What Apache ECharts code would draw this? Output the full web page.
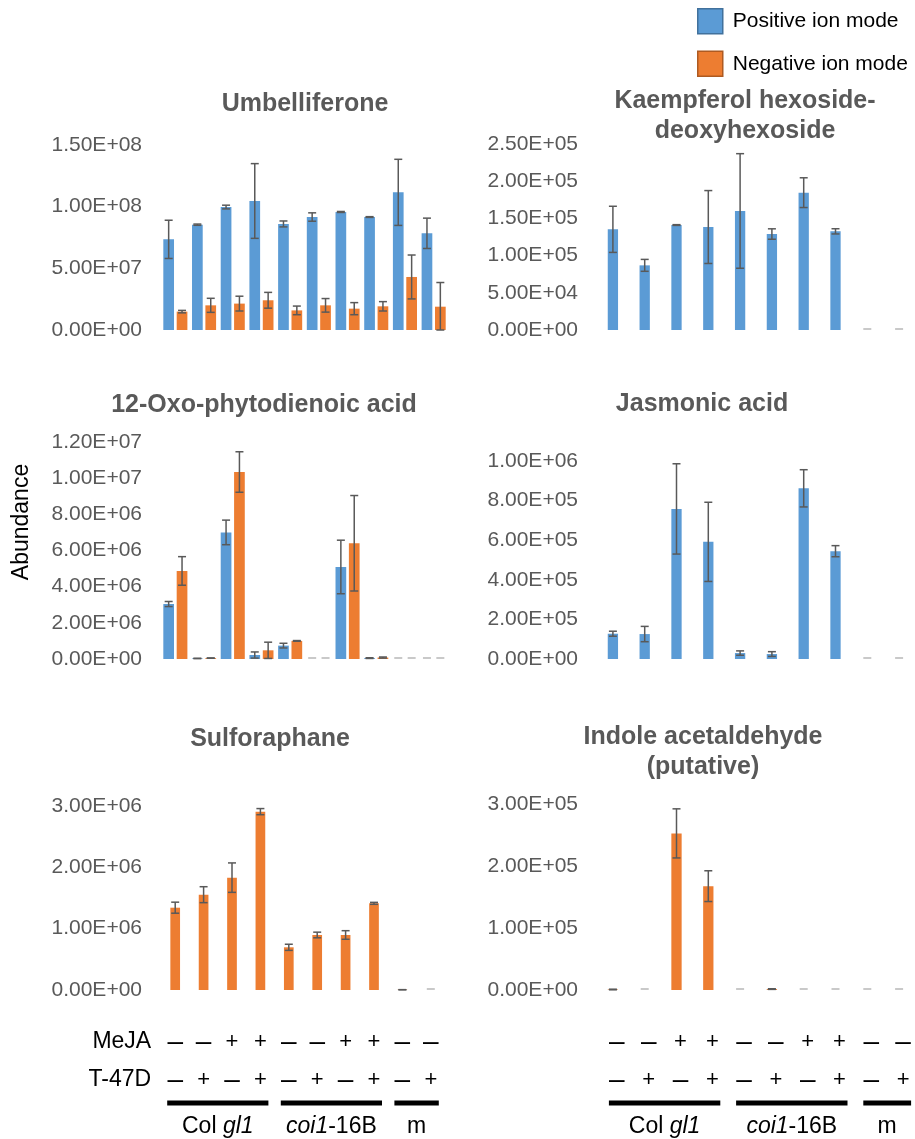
<!DOCTYPE html>
<html><head><meta charset="utf-8">
<script src="https://cdn.jsdelivr.net/npm/echarts@6/dist/echarts.min.js"></script>
<style>html,body{margin:0;padding:0;background:#fff}#c{width:915px;height:1139px}</style>
</head><body><div id="c"></div>
<script>
// ---------- DATA ----------
const categories = ['Col gl1 -/-','Col gl1 -/+','Col gl1 +/-','Col gl1 +/+','coi1-16B -/-','coi1-16B -/+','coi1-16B +/-','coi1-16B +/+','m -/-','m -/+'];
const mejaRow = ['–','–','+','+','–','–','+','+','–','–'];
const t47dRow = ['–','+','–','+','–','+','–','+','–','+'];
const genotypes = ['Col gl1','coi1-16B','m'];
const genotypeFirst = [0,4,8];
const genotypeLast = [3,7,9];
const POS = 'Positive ion mode';
const NEG = 'Negative ion mode';

// Umbelliferone
const umbPos    = [73.5e6, 85.4e6, 99.7e6, 104.6e6, 86.0e6, 91.6e6, 95.7e6, 91.6e6, 111.6e6, 78.4e6];
const umbPosErr = [15.5e6, 0.5e6, 1.5e6, 30.3e6, 2.4e6, 3.4e6, 0.4e6, 0.3e6, 26.8e6, 12.3e6];
const umbNeg    = [14.9e6, 20.0e6, 21.4e6, 24.1e6, 15.9e6, 20.0e6, 17.3e6, 19.2e6, 43.0e6, 18.9e6];
const umbNegErr = [1.0e6, 5.7e6, 6.0e6, 6.4e6, 3.5e6, 5.5e6, 4.9e6, 3.8e6, 17.8e6, 19.6e6];
// Kaempferol hexoside-deoxyhexoside
const kaePos    = [135.3e3, 86.9e3, 141.1e3, 138.4e3, 160.0e3, 129.0e3, 184.6e3, 132.6e3, 0, 0];
const kaePosErr = [31e3, 8e3, 0.5e3, 49e3, 77e3, 7e3, 20e3, 3.5e3, 0, 0];
// 12-Oxo-phytodienoic acid
const opdaPos    = [3.04e6, 0.03e6, 7.00e6, 0.22e6, 0.74e6, 0, 5.09e6, 0.05e6, 0, 0];
const opdaPosErr = [0.14e6, 0.01e6, 0.68e6, 0.17e6, 0.13e6, 0, 1.48e6, 0.02e6, 0, 0];
const opdaNeg    = [4.87e6, 0.05e6, 10.34e6, 0.48e6, 1.00e6, 0, 6.40e6, 0.08e6, 0, 0];
const opdaNegErr = [0.79e6, 0.01e6, 1.12e6, 0.45e6, 0.02e6, 0, 2.64e6, 0.03e6, 0, 0];
// Jasmonic acid
const jaPos    = [127.7e3, 126e3, 758e3, 591.6e3, 30e3, 25e3, 862e3, 544.5e3, 0, 0];
const jaPosErr = [12.6e3, 38.7e3, 228e3, 200e3, 11e3, 12e3, 94e3, 28e3, 0, 0];
// Sulforaphane
const sulNeg    = [1.342e6, 1.554e6, 1.832e6, 2.908e6, 0.696e6, 0.897e6, 0.897e6, 1.413e6, 0.005e6, 0];
const sulNegErr = [0.09e6, 0.13e6, 0.24e6, 0.05e6, 0.05e6, 0.046e6, 0.07e6, 0.016e6, 0, 0];
// Indole acetaldehyde (putative)
const iaaNeg    = [0.8e3, 0, 252.6e3, 167.5e3, 0, 1.5e3, 0, 0, 0, 0];
const iaaNegErr = [0.5e3, 0, 39.6e3, 24.8e3, 0, 0.5e3, 0, 0, 0, 0];

// axis ticks (max, interval)
const umbAxis = [1.5e8, 5e7];
const kaeAxis = [2.5e5, 5e4];
const opdaAxis = [1.2e7, 2e6];
const jaAxis = [1.0e6, 2e5];
const sulAxis = [3e6, 1e6];
const iaaAxis = [3e5, 1e5];

const titles = ['Umbelliferone', 'Kaempferol hexoside-\ndeoxyhexoside', '12-Oxo-phytodienoic acid', 'Jasmonic acid', 'Sulforaphane', 'Indole acetaldehyde\n(putative)'];

// ---------- LAYOUT / STYLE ----------
const FONT = '"Liberation Sans", Arial, Helvetica, sans-serif';
const BLUE = '#5B9BD5', ORANGE = '#ED7D31';
const colorOf = {[POS]: BLUE, [NEG]: ORANGE};

const panels = [
  {grid:{left:161, top:145, width:287, height:185}, axis:umbAxis, bw:10.7, title:[305,104],
   series:[{name:POS, v:umbPos, e:umbPosErr},{name:NEG, v:umbNeg, e:umbNegErr}]},
  {grid:{left:597, top:144, width:318, height:186}, axis:kaeAxis, bw:10.3, title:[745,116],
   series:[{name:POS, v:kaePos, e:kaePosErr}]},
  {grid:{left:161, top:442, width:287, height:217}, axis:opdaAxis, bw:10.7, title:[264,405],
   series:[{name:POS, v:opdaPos, e:opdaPosErr},{name:NEG, v:opdaNeg, e:opdaNegErr}]},
  {grid:{left:597, top:461, width:318, height:198}, axis:jaAxis, bw:10.3, title:[702,404],
   series:[{name:POS, v:jaPos, e:jaPosErr}]},
  {grid:{left:161, top:806, width:284, height:184}, axis:sulAxis, bw:9.7, title:[270,739],
   series:[{name:NEG, v:sulNeg, e:sulNegErr}]},
  {grid:{left:597, top:804, width:318, height:186}, axis:iaaAxis, bw:10.3, title:[703,752],
   series:[{name:NEG, v:iaaNeg, e:iaaNegErr}]}
];
const GAP = 0.25;

function fmtSci(v){
  if (v === 0) return '0.00E+00';
  const s = v.toExponential(2).split('e');
  let ex = parseInt(s[1],10);
  const sign = ex < 0 ? '-' : '+';
  ex = Math.abs(ex);
  return s[0] + 'E' + sign + (ex < 10 ? '0' + ex : '' + ex);
}

function errRender(offset){
  return function(params, api){
    const i = api.value(0), v = api.value(1), e = api.value(2);
    const p = api.coord([i, v]);
    const x = p[0] + offset;
    if (v === 0 && e === 0) {
      return {type:'line', shape:{x1:x-4, y1:p[1]-1, x2:x+4, y2:p[1]-1}, style:{stroke:'#C9C9C9', lineWidth:2}};
    }
    const yt = api.coord([i, v + e])[1];
    const yb = api.coord([i, Math.max(0, v - e)])[1];
    const st = {stroke:'#595959', lineWidth:1.5};
    return {type:'group', children:[
      {type:'line', shape:{x1:x, y1:yt, x2:x, y2:yb}, style:st},
      {type:'line', shape:{x1:x-4, y1:yt, x2:x+4, y2:yt}, style:st},
      {type:'line', shape:{x1:x-4, y1:yb, x2:x+4, y2:yb}, style:st}
    ]};
  };
}

const grids = [], xAxes = [], yAxes = [], series = [];
panels.forEach((pn, k) => {
  grids.push(Object.assign({containLabel:false}, pn.grid));
  xAxes.push({type:'category', gridIndex:k, data:categories, axisLine:{show:false}, axisTick:{show:false}, axisLabel:{show:false}, splitLine:{show:false}});
  yAxes.push({type:'value', gridIndex:k, min:0, max:pn.axis[0], interval:pn.axis[1],
    axisLine:{show:false}, axisTick:{show:false}, splitLine:{show:false},
    axisLabel:{formatter:fmtSci, color:'#595959', fontSize:21, fontFamily:FONT, margin:19}});
  const n = pn.series.length;
  pn.series.forEach((s, j) => {
    series.push({type:'bar', name:s.name, xAxisIndex:k, yAxisIndex:k, data:s.v, barWidth:pn.bw, barGap:(GAP*100)+'%',
      itemStyle:{color:colorOf[s.name]}, silent:true, z:2});
    const off = n === 2 ? (j === 0 ? -1 : 1) * pn.bw * (1 + GAP) / 2 : 0;
    series.push({type:'custom', name:s.name + ' error', xAxisIndex:k, yAxisIndex:k, z:3, silent:true,
      renderItem:errRender(off), encode:{x:0, y:1},
      data:s.v.map((v, i) => [i, v, s.e[i]])});
  });
});

const chart = echarts.init(document.getElementById('c'), null, {renderer:'canvas'});
chart.setOption({
  animation:false,
  backgroundColor:'#fff',
  grid:grids, xAxis:xAxes, yAxis:yAxes, series:series,
  legend:{left:692, top:3, orient:'vertical', itemWidth:25, itemHeight:25, itemGap:16, icon:'rect', selectedMode:false,
    data:[{name:POS, itemStyle:{color:BLUE, borderColor:'#41719C', borderWidth:1.5}},
          {name:NEG, itemStyle:{color:ORANGE, borderColor:'#AE5A21', borderWidth:1.5}}],
    textStyle:{fontSize:21, color:'#000', fontFamily:FONT, padding:[0,0,0,5]}}
});

// ---------- annotations ----------
const g = [];
panels.forEach((pn, k) => {
  g.push({type:'text', x:pn.title[0], y:pn.title[1], silent:true,
    style:{text:titles[k], fill:'#595959', font:'bold 25px ' + FONT, align:'center', verticalAlign:'middle', lineHeight:30}});
});
g.push({type:'text', x:22, y:522, rotation:Math.PI/2, silent:true,
  style:{text:'Abundance', fill:'#000', font:'23px ' + FONT, align:'center', verticalAlign:'middle'}});

const rowY = [1042, 1080], lineY = 1103, genoY = 1127;
[[4, 0, true], [5, 4, false]].forEach(([gi, shift, showNames]) => {
  const cx = categories.map((c, i) => chart.convertToPixel({gridIndex:gi}, [i, 0])[0] + shift);
  if (showNames) {
    g.push({type:'text', x:cx[0] - 24, y:rowY[0], silent:true, style:{text:'MeJA', fill:'#000', font:'23px ' + FONT, align:'right', verticalAlign:'middle'}});
    g.push({type:'text', x:cx[0] - 24, y:rowY[1], silent:true, style:{text:'T-47D', fill:'#000', font:'23px ' + FONT, align:'right', verticalAlign:'middle'}});
  }
  [mejaRow, t47dRow].forEach((row, r) => {
    row.forEach((sym, i) => {
      g.push({type:'text', x:cx[i], y:rowY[r], silent:true,
        style:{text:sym, fill:'#000', font:(sym === '+' ? '22px ' : '28px ') + FONT, align:'center', verticalAlign:'middle'}});
    });
  });
  genotypes.forEach((name, j) => {
    const x1 = cx[genotypeFirst[j]] - 8, x2 = cx[genotypeLast[j]] + 8;
    g.push({type:'line', silent:true, shape:{x1:x1, y1:lineY, x2:x2, y2:lineY}, style:{stroke:'#000', lineWidth:5}});
    const rich = {n:{fontSize:23, fontFamily:FONT, fill:'#000'}, i:{fontSize:23, fontFamily:FONT, fontStyle:'italic', fill:'#000'}};
    let txt;
    if (name === 'Col gl1') txt = '{n|Col }{i|gl1}';
    else if (name === 'coi1-16B') txt = '{i|coi1}{n|-16B}';
    else txt = '{n|' + name + '}';
    g.push({type:'text', x:(x1 + x2) / 2, y:genoY, silent:true,
      style:{text:txt, rich:rich, align:'center', verticalAlign:'middle', fill:'#000', font:'23px ' + FONT}});
  });
});
chart.setOption({graphic:g});
</script></body></html>
